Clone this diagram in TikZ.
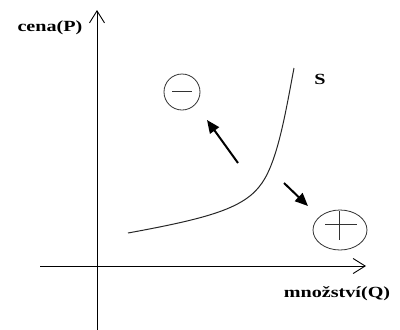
\documentclass[tikz,border=0pt]{standalone}
\usepackage{fontspec}
\setmainfont{Liberation Serif}
\newfontfamily\lblfont[FakeStretch=1.3]{Liberation Serif}
\usetikzlibrary{arrows.meta,shapes.geometric}
\begin{document}
\begin{tikzpicture}[x=1pt,y=-1pt,
  axis/.style={line width=0.9pt,-{Straight Barb[length=12pt,width=15pt,line width=0.9pt]}},
  lbl/.style={inner sep=0pt,font=\lblfont\bfseries\fontsize{15.5}{18}\selectfont},
  sign/.style={draw=black!80,line width=0.8pt,inner sep=0pt},
  fatarrow/.style={line width=2pt,-{Triangle[length=13pt,width=11pt]}},
  curve/.style={line width=1pt,black!85}]
\useasboundingbox (0,0) rectangle (400,330);
% axes
\coordinate (ybot) at (97,330);
\coordinate (ytop) at (97,10);
\coordinate (xleft) at (40,266);
\coordinate (xright) at (366,266);
\draw[axis] (ybot) -- (ytop);
\draw[axis] (xleft) -- (xright);
% labels
\node[lbl] (cena) at (50,28) {cena(P)};
\node[lbl] (mnoz) at (337,294) {množství(Q)};
\node[lbl] (s) at (320,79) {S};
% supply curve
\draw[curve] (128,233) .. controls (210,218) and (245,208) .. (262,183)
  .. controls (278,160) and (286,110) .. (294,68);
% minus
\node[sign,circle,minimum size=36pt] (minus) at (182,92) {};
\draw[sign] ([xshift=-10pt,yshift=1pt]minus.center) -- ([xshift=10pt,yshift=1pt]minus.center);
% plus
\node[sign,ellipse,minimum width=54pt,minimum height=40pt] (plus) at (340,230) {};
\draw[sign] (325,224) -- (357,224);
\draw[sign] (339,211) -- (339,240);
% arrows
\coordinate (a1s) at (238,163);
\coordinate (a1e) at (207,120);
\coordinate (a2s) at (284,183);
\coordinate (a2e) at (308,206);
\draw[fatarrow] (a1s) -- (a1e);
\draw[fatarrow] (a2s) -- (a2e);
\end{tikzpicture}
\end{document}
